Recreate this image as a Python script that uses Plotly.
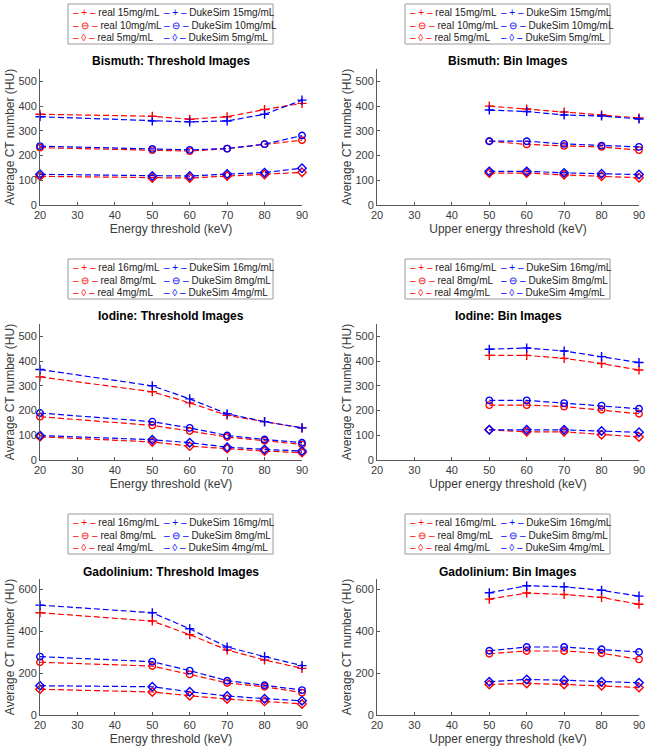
import plotly.graph_objects as go

W, H = 648, 750

# ---------------- data ----------------
x_thresh = [20, 50, 60, 70, 80, 90]
x_bin = [50, 60, 70, 80, 90]
x_ticks = [20, 30, 40, 50, 60, 70, 80, 90]

# Bismuth: threshold images
bi_thr_real_15 = [367, 359, 347, 357, 386, 411]
bi_thr_duke_15 = [357, 340, 336, 340, 367, 424]
bi_thr_real_10 = [232, 222, 218, 228, 246, 262]
bi_thr_duke_10 = [238, 227, 223, 228, 246, 281]
bi_thr_real_5 = [116, 109, 109, 117, 123, 132]
bi_thr_duke_5 = [124, 117, 117, 125, 131, 149]

# Bismuth: bin images
bi_bin_real_15 = [400, 388, 376, 365, 352]
bi_bin_duke_15 = [384, 378, 364, 360, 348]
bi_bin_real_10 = [258, 245, 239, 235, 222]
bi_bin_duke_10 = [258, 258, 247, 240, 235]
bi_bin_real_5 = [129, 129, 122, 116, 110]
bi_bin_duke_5 = [136, 136, 130, 126, 123]

# Iodine: threshold images
io_thr_real_16 = [336, 276, 231, 181, 155, 130]
io_thr_duke_16 = [366, 300, 247, 187, 155, 130]
io_thr_real_8 = [175, 140, 117, 93, 78, 63]
io_thr_duke_8 = [190, 155, 130, 99, 83, 70]
io_thr_real_4 = [94, 73, 56, 46, 36, 30]
io_thr_duke_4 = [99, 82, 70, 52, 43, 36]

# Iodine: bin images
io_bin_real_16 = [423, 423, 411, 390, 364]
io_bin_duke_16 = [448, 453, 441, 418, 394]
io_bin_real_8 = [222, 222, 216, 203, 187]
io_bin_duke_8 = [241, 241, 230, 220, 207]
io_bin_real_4 = [122, 114, 114, 102, 93]
io_bin_duke_4 = [122, 122, 122, 117, 112]

# Gadolinium: threshold images
gd_thr_real_16 = [489, 449, 384, 311, 263, 223]
gd_thr_duke_16 = [525, 489, 412, 325, 279, 236]
gd_thr_real_8 = [252, 234, 194, 153, 135, 107]
gd_thr_duke_8 = [279, 255, 212, 164, 142, 119]
gd_thr_real_4 = [123, 110, 92, 76, 65, 53]
gd_thr_duke_4 = [140, 135, 111, 91, 78, 68]

# Gadolinium: bin images
gd_bin_real_16 = [554, 583, 576, 562, 529]
gd_bin_duke_16 = [584, 618, 613, 596, 568]
gd_bin_real_8 = [293, 306, 306, 295, 266]
gd_bin_duke_8 = [307, 325, 325, 314, 301]
gd_bin_real_4 = [146, 151, 146, 140, 131]
gd_bin_duke_4 = [159, 170, 166, 159, 154]

bi_conc = ["15mg/mL", "10mg/mL", "5mg/mL"]
io_conc = ["16mg/mL", "8mg/mL", "4mg/mL"]
gd_conc = ["16mg/mL", "8mg/mL", "4mg/mL"]

titles = ["Bismuth: Threshold Images", "Bismuth: Bin Images",
          "Iodine: Threshold Images", "Iodine: Bin Images",
          "Gadolinium: Threshold Images", "Gadolinium: Bin Images"]
x_titles = ["Energy threshold (keV)", "Upper energy threshold (keV)"]
y_title = "Average CT number (HU)"
y_ticks_a = [0, 100, 200, 300, 400, 500]
y_ticks_b = [0, 200, 400, 600]

panels = [
    dict(x=x_thresh, conc=bi_conc, real=[bi_thr_real_15, bi_thr_real_10, bi_thr_real_5],
         duke=[bi_thr_duke_15, bi_thr_duke_10, bi_thr_duke_5], yr=[0, 550], yt=y_ticks_a),
    dict(x=x_bin, conc=bi_conc, real=[bi_bin_real_15, bi_bin_real_10, bi_bin_real_5],
         duke=[bi_bin_duke_15, bi_bin_duke_10, bi_bin_duke_5], yr=[0, 550], yt=y_ticks_a),
    dict(x=x_thresh, conc=io_conc, real=[io_thr_real_16, io_thr_real_8, io_thr_real_4],
         duke=[io_thr_duke_16, io_thr_duke_8, io_thr_duke_4], yr=[0, 550], yt=y_ticks_a),
    dict(x=x_bin, conc=io_conc, real=[io_bin_real_16, io_bin_real_8, io_bin_real_4],
         duke=[io_bin_duke_16, io_bin_duke_8, io_bin_duke_4], yr=[0, 550], yt=y_ticks_a),
    dict(x=x_thresh, conc=gd_conc, real=[gd_thr_real_16, gd_thr_real_8, gd_thr_real_4],
         duke=[gd_thr_duke_16, gd_thr_duke_8, gd_thr_duke_4], yr=[0, 650], yt=y_ticks_b),
    dict(x=x_bin, conc=gd_conc, real=[gd_bin_real_16, gd_bin_real_8, gd_bin_real_4],
         duke=[gd_bin_duke_16, gd_bin_duke_8, gd_bin_duke_4], yr=[0, 650], yt=y_ticks_b),
]

# ---------------- style ----------------
RED, BLUE = "#ff0000", "#0000ff"
SYMBOLS = ["cross-thin-open", "circle-open", "diamond-open"]
KEY_GLYPHS = ["+", "⊖", "◊"]
FONT = "Liberation Sans, Arial, Helvetica, sans-serif"
AX_COLOR = "#5a5a5a"
TXT_COLOR = "#3a3a3a"

col_left = [40, 377]          # pixel left of plot area
col_width = 262
row_top = [69, 324, 579]      # pixel top of plot area
row_height = 136


def px(xp):
    return xp / W


def py(yp):
    return 1 - yp / H


fig = go.Figure()
layout = dict(
    width=W, height=H, margin=dict(l=0, r=0, t=0, b=0),
    paper_bgcolor="white", plot_bgcolor="white", showlegend=False,
    font=dict(family=FONT, color=TXT_COLOR),
)
annotations = []
shapes = []

for i, p in enumerate(panels):
    r, c = divmod(i, 2)
    sfx = "" if i == 0 else str(i + 1)
    xa, ya = "x" + sfx, "y" + sfx
    L, T = col_left[c], row_top[r]

    for k in range(3):
        for series, color, name in ((p["real"][k], RED, "real"), (p["duke"][k], BLUE, "DukeSim")):
            fig.add_trace(go.Scatter(
                x=p["x"], y=series, xaxis=xa, yaxis=ya, mode="lines+markers",
                name=f"{name} {p['conc'][k]}", cliponaxis=False,
                line=dict(color=color, width=1.2, dash="6px,3px"),
                marker=dict(symbol=SYMBOLS[k], size=6.5, color=color,
                            line=dict(color=color, width=1.4)),
            ))

    layout["xaxis" + sfx] = dict(
        domain=[px(L), px(L + col_width)], anchor=ya, range=[20, 90],
        tickvals=x_ticks, ticks="inside", ticklen=3, tickcolor=AX_COLOR,
        showline=True, linecolor=AX_COLOR, linewidth=1, showgrid=False,
        zeroline=False, automargin=False, tickfont=dict(size=11, color=TXT_COLOR),
        title=dict(text=x_titles[c], font=dict(size=12, color=TXT_COLOR), standoff=4),
    )
    layout["yaxis" + sfx] = dict(
        domain=[py(T + row_height), py(T)], anchor=xa, range=p["yr"],
        tickvals=p["yt"], ticks="inside", ticklen=3, tickcolor=AX_COLOR,
        showline=True, linecolor=AX_COLOR, linewidth=1, showgrid=False,
        zeroline=False, automargin=False, tickfont=dict(size=11, color=TXT_COLOR),
        title=dict(text=y_title, font=dict(size=12, color=TXT_COLOR), standoff=1),
    )

    # title
    annotations.append(dict(
        x=px(L + col_width / 2), y=py(T - 7.5), xref="paper", yref="paper",
        text=f"<b>{titles[i]}</b>", showarrow=False, xanchor="center", yanchor="middle",
        font=dict(size=12, color="#000000", family=FONT),
    ))

    # legend box
    bx0, by0 = L + 28, T - 65
    shapes.append(dict(type="rect", xref="paper", yref="paper",
                       x0=px(bx0), x1=px(bx0 + 205), y0=py(by0), y1=py(by0 + 40),
                       line=dict(color="#9a9a9a", width=1), fillcolor="white"))
    for k in range(3):
        yk = by0 + 8.5 + 12.6 * k
        for cx, color, name in ((bx0 + 3, RED, "real"), (bx0 + 94, BLUE, "DukeSim")):
            annotations.append(dict(
                x=px(cx), y=py(yk), xref="paper", yref="paper", showarrow=False,
                xanchor="left", yanchor="middle",
                text=f"<span style='color:{color}'>– {KEY_GLYPHS[k]} –</span> {name} {p['conc'][k]}",
                font=dict(size=10, color="#222222", family=FONT),
            ))

layout["annotations"] = annotations
layout["shapes"] = shapes
fig.update_layout(**layout)
fig.write_html(
    "out.html",
    config={"displayModeBar": False},
    post_script="document.body.style.margin='0';document.body.style.overflow='hidden';",
)
